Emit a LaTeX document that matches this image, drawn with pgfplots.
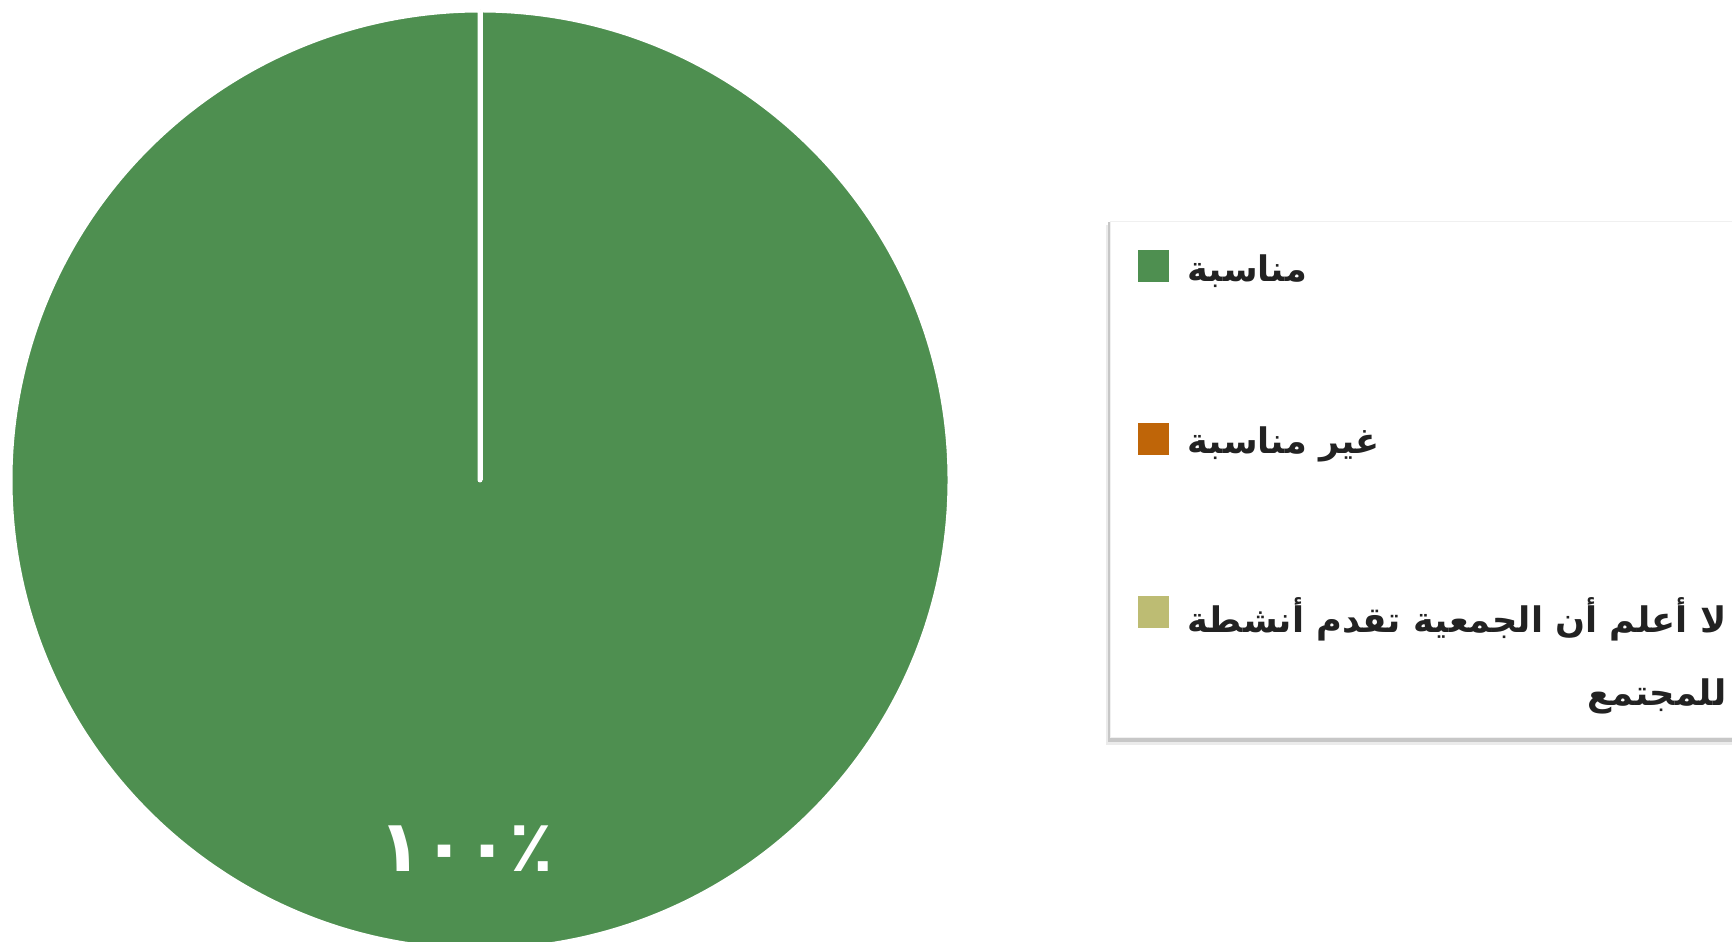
\documentclass[border=0pt]{standalone}
\usepackage{pgfplots}
\pgfplotsset{compat=1.18}
\usepackage{pgfplotstable}
\usepackage{fontspec}
\newfontfamily\arabicfont[Script=Arabic]{DejaVu Sans}
\newfontfamily\numfont{DejaVu Sans}
\definecolor{cA}{HTML}{4E8F50}
\definecolor{cB}{HTML}{BF6508}
\definecolor{cC}{HTML}{BDBC73}
\definecolor{txt}{HTML}{222222}
\pgfplotstableread{
idx value
0 100
1 0
2 0
}\piedata
\TeXXeTstate=1
\begin{document}
\begin{tikzpicture}
\pgfplotstablegetelem{0}{value}\of\piedata \pgfmathsetmacro\vA{\pgfplotsretval}
\pgfplotstablegetelem{1}{value}\of\piedata \pgfmathsetmacro\vB{\pgfplotsretval}
\pgfplotstablegetelem{2}{value}\of\piedata \pgfmathsetmacro\vC{\pgfplotsretval}
\pgfmathsetmacro\aZero{90}
\pgfmathsetmacro\aOne{90-3.6*\vA}
\pgfmathsetmacro\aTwo{\aOne-3.6*\vB}
\pgfmathsetmacro\aThree{\aTwo-3.6*\vC}
\begin{scope}
\clip (0,0) rectangle (866pt,470.5pt);
\begin{axis}[at={(0,0)}, anchor=south west, x=0.5pt, y=0.5pt,
  xmin=0, xmax=1732, ymin=0, ymax=941, hide axis, scale only axis, clip=false]
\addplot[draw=none] coordinates {(480,461)};
\fill[cA, draw=white, line width=2.5pt, line join=round] (axis cs:480,461) -- ++(\aZero:235pt) arc[start angle=\aZero, end angle=\aOne, radius=235pt] -- cycle;
\fill[cB, draw=white, line width=2.5pt] (axis cs:480,461) -- ++(\aOne:235pt) arc[start angle=\aOne, end angle=\aTwo, radius=235pt] -- cycle;
\fill[cC, draw=white, line width=2.5pt] (axis cs:480,461) -- ++(\aTwo:235pt) arc[start angle=\aTwo, end angle=\aThree, radius=235pt] -- cycle;
\node[white, font=\numfont\bfseries\fontsize{36}{40}\selectfont] at (axis cs:466,92) {١٠٠٪};
\end{axis}
\begin{scope}[x=0.5pt, y=0.5pt]
  \fill[black!8] (1106,196) rectangle (1800,716);
  \fill[black!22] (1108,199) rectangle (1800,719);
  \fill[white] (1110,204) rectangle (1800,720);
  \draw[black!6] (1110,204) rectangle (1800,720);
  \fill[cA] (1138,659) rectangle (1169,691);
  \fill[cB] (1138,486) rectangle (1169,518);
  \fill[cC] (1138,313) rectangle (1169,345);
  \begin{scope}[every node/.style={text=txt, inner sep=0pt, font=\arabicfont\bfseries\fontsize{17.6}{22}\selectfont}]
  \node[anchor=west] at (1187,670) {\beginR مناسبة\endR};
  \node[anchor=west] at (1187,497) {\beginR غير مناسبة\endR};
  \node[anchor=west] (l1) at (1187,322) {\beginR لا أعلم أن الجمعية تقدم أنشطة\endR};
  \node[anchor=east] at ([yshift=-38.5pt]l1.east) {\beginR للمجتمع\endR};
  \end{scope}
\end{scope}
\end{scope}
\pgfresetboundingbox
\useasboundingbox (0,0) rectangle (866pt,470.5pt);
\end{tikzpicture}
\end{document}
